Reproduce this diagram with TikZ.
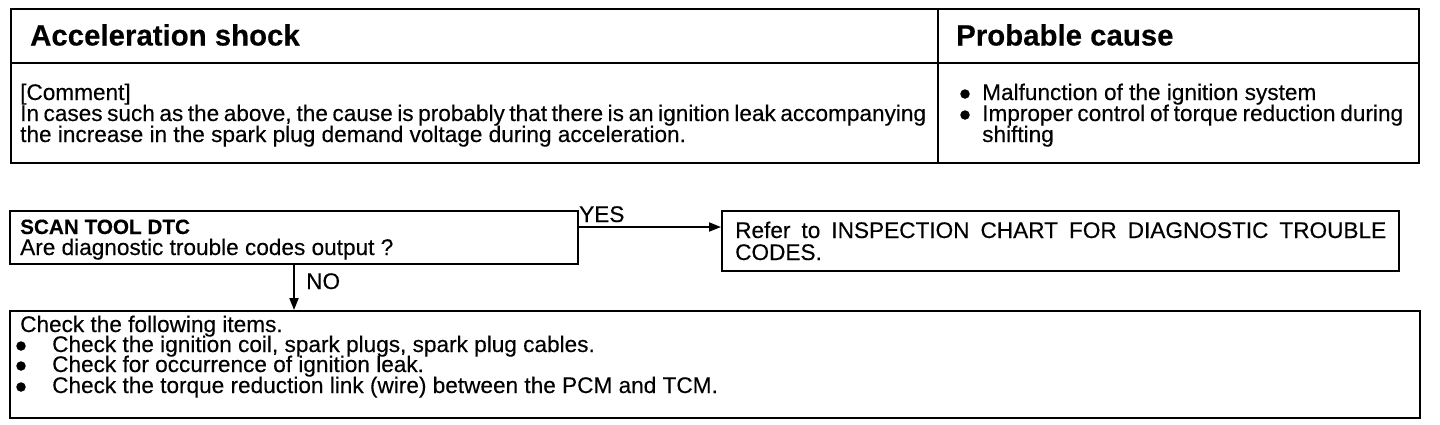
\documentclass[tikz,border=0pt]{standalone}
\usepackage{fontspec}
\setmainfont{Liberation Sans}[FakeBold=0.3]
\usetikzlibrary{arrows.meta,calc}
\newcommand{\jl}[2]{\makebox[#1][s]{#2}}
\begin{document}
\begin{tikzpicture}[x=1pt,y=-1pt,
  frame/.style={line width=2pt},
  box/.style={draw,line width=2pt,inner sep=0pt,anchor=north west},
  txt/.style={inner sep=0pt,anchor=base west,font=\fontsize{22.6}{24}\selectfont},
  head/.style={inner sep=0pt,anchor=base west,font=\fontsize{29.4}{32}\selectfont\bfseries},
  dot/.style={circle,fill,inner sep=0pt,minimum size=9.5pt},
  conn/.style={line width=1.8pt,-{Triangle[length=12pt,width=9pt]}}
]
\useasboundingbox (0,0) rectangle (1440,424);
% ---------- table ----------
\coordinate (tNW) at (11,9);
\coordinate (tSE) at (1419,163);
\draw[frame] (tNW) rectangle (tSE);
\draw[frame] (11,63) -- (1419,63);
\draw[frame] (938,9) -- (938,163);
\node[head] (h1) at (30,45.5) {Acceleration shock};
\node[head] (h2) at (956,45.5) {Probable cause};
\node[txt] (c1) at (20,100) {[Comment]};
\node[txt] (c2) at (20,121) {\jl{906pt}{In cases such as the above, the cause is probably that there is an ignition leak accompanying}};
\node[txt] (c3) at (20,142) {the increase in the spark plug demand voltage during acceleration.};
\node[dot] (p1d) at (965,94) {};
\node[txt] (p1) at (982,100) {Malfunction of the ignition system};
\node[dot] (p2d) at (965,115) {};
\node[txt] (p2) at (982,121) {\jl{421pt}{Improper control of torque reduction during}};
\node[txt] (p3) at (982,142) {shifting};
% ---------- flow chart ----------
\node[box,minimum width=568pt,minimum height=53pt] (b1) at (9,210) {};
\node[txt,font=\fontsize{20.7}{24}\selectfont\bfseries] (b1a) at (20,234) {SCAN TOOL DTC};
\node[txt] (b1b) at (20,255) {Are diagnostic trouble codes output ?};
\node[box,minimum width=677pt,minimum height=60pt] (b2) at (721,210) {};
\node[txt] (b2a) at (735,238) {\jl{651pt}{Refer to INSPECTION CHART FOR DIAGNOSTIC TROUBLE}};
\node[txt] (b2b) at (735,260) {CODES.};
\node[box,minimum width=1410pt,minimum height=107pt] (b3) at (9,310) {};
\node[txt] (b3a) at (20,332) {Check the following items.};
\node[dot] (d1) at (21,346) {};
\node[txt] (b3b) at (52,352) {Check the ignition coil, spark plugs, spark plug cables.};
\node[dot] (d2) at (21,366) {};
\node[txt] (b3c) at (52,372) {Check for occurrence of ignition leak.};
\node[dot] (d3) at (21,387) {};
\node[txt] (b3d) at (52,393) {Check the torque reduction link (wire) between the PCM and TCM.};
% connectors
\coordinate (yesS) at ([yshift=10.5pt]b1.east);
\draw[conn] (yesS) -- (yesS -| b2.west);
\node[txt] (yes) at (579,222) {YES};
\draw[conn] (b1.south) -- (b1.south |- b3.north);
\node[txt] (no) at (306,289) {NO};
\end{tikzpicture}
\end{document}
